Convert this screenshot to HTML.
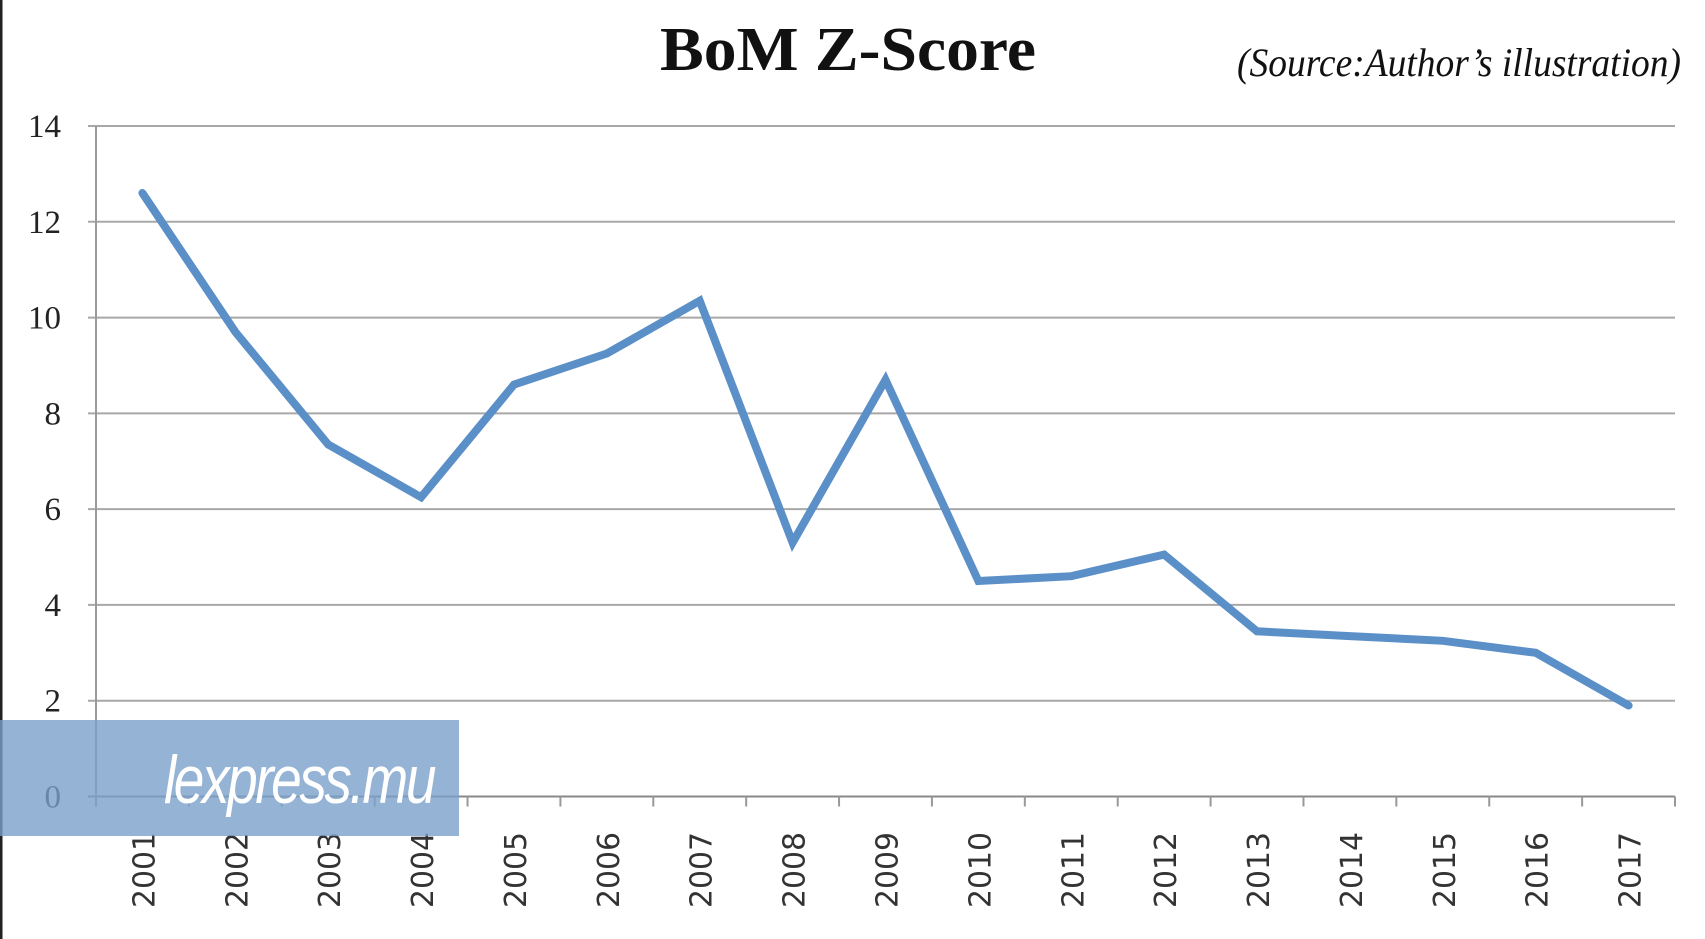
<!DOCTYPE html>
<html><head><meta charset="utf-8"><style>
html,body{margin:0;padding:0;background:#fff;}
svg{display:block;}
</style></head><body>
<svg id="chart" width="1705" height="939" viewBox="0 0 1705 939" xmlns="http://www.w3.org/2000/svg">
<rect x="0" y="0" width="1705" height="939" fill="#fff"/>
<line x1="1" y1="0" x2="1" y2="939" stroke="#222" stroke-width="3"/>
<text x="848" y="70" text-anchor="middle" font-family="Liberation Serif, serif" font-weight="bold" font-size="62" fill="#111" textLength="376" lengthAdjust="spacingAndGlyphs">BoM Z-Score</text>
<text x="1681" y="76" text-anchor="end" font-family="Liberation Serif, serif" font-style="italic" font-size="40" fill="#111" textLength="444" lengthAdjust="spacingAndGlyphs">(Source:Author’s illustration)</text>
<g id="grid"></g>
<g id="xticks"></g>
<g id="labels"></g>
<g id="series"></g>
<g>
<rect x="0" y="720" width="459" height="116" fill="#7aa0cb" fill-opacity="0.8"/>
<text x="164" y="803" font-family="Liberation Sans Narrow, Liberation Sans, sans-serif" font-style="italic" font-size="68" fill="#fff" letter-spacing="-3" textLength="270" lengthAdjust="spacingAndGlyphs">lexpress.mu</text>
</g>
</svg>
<script>
const categories=["2001","2002","2003","2004","2005","2006","2007","2008","2009","2010","2011","2012","2013","2014","2015","2016","2017"];
const values=[12.6,9.7,7.35,6.25,8.6,9.25,10.35,5.3,8.7,4.5,4.6,5.05,3.45,3.35,3.25,3.0,1.9];
const yTicks=[0,2,4,6,8,10,12,14];
const NS="http://www.w3.org/2000/svg";
const X0=96,X1=1675,Y0=796.5,Y14=126;
const band=(X1-X0)/categories.length;
function xs(i){return X0+band*(i+0.5);}
function ys(v){return Y0-(v/14)*(Y0-Y14);}
function mk(tag,attrs,parent){const e=document.createElementNS(NS,tag);for(const k in attrs)e.setAttribute(k,attrs[k]);parent.appendChild(e);return e;}
const grid=document.getElementById('grid'),xt=document.getElementById('xticks'),lab=document.getElementById('labels'),ser=document.getElementById('series');
yTicks.forEach(t=>{
  const l=mk('line',{x1:X0-8,x2:X1,y1:ys(t),y2:ys(t),stroke:t===0?'#888':'#a8a8a8','stroke-width':2},grid);
  
  
  const tx=mk('text',{x:61,y:ys(t)+11,'text-anchor':'end','font-family':'Liberation Serif, serif','font-size':33,fill:'#222'},lab);
  tx.textContent=t;
  
  
});
const ax=mk('line',{x1:X0,x2:X0,y1:Y14,y2:Y0+8,stroke:'#999','stroke-width':2},grid);


for(let i=0;i<=categories.length;i++){
  const x=X0+band*i;
  const tk=mk('line',{x1:x,x2:x,y1:Y0,y2:Y0+10,stroke:'#999','stroke-width':2},xt);
  
  
}
categories.forEach((c,i)=>{
  const x=xs(i)+12,y=870;
  const t=mk('text',{x:x,y:y,transform:`rotate(-90 ${x} ${y})`,'text-anchor':'middle','font-family':'DejaVu Sans, sans-serif','font-size':30,fill:'#333',textLength:76,lengthAdjust:'spacingAndGlyphs'},lab);
  t.textContent=c;
  
  
});
const pts=values.map((v,i)=>xs(i).toFixed(1)+','+ys(v).toFixed(1)).join(' ');
const pl=mk('polyline',{points:pts,fill:'none',stroke:'#5b8fc8','stroke-width':8,'stroke-linejoin':'miter','stroke-linecap':'round'},ser);


</script>
</body></html>
